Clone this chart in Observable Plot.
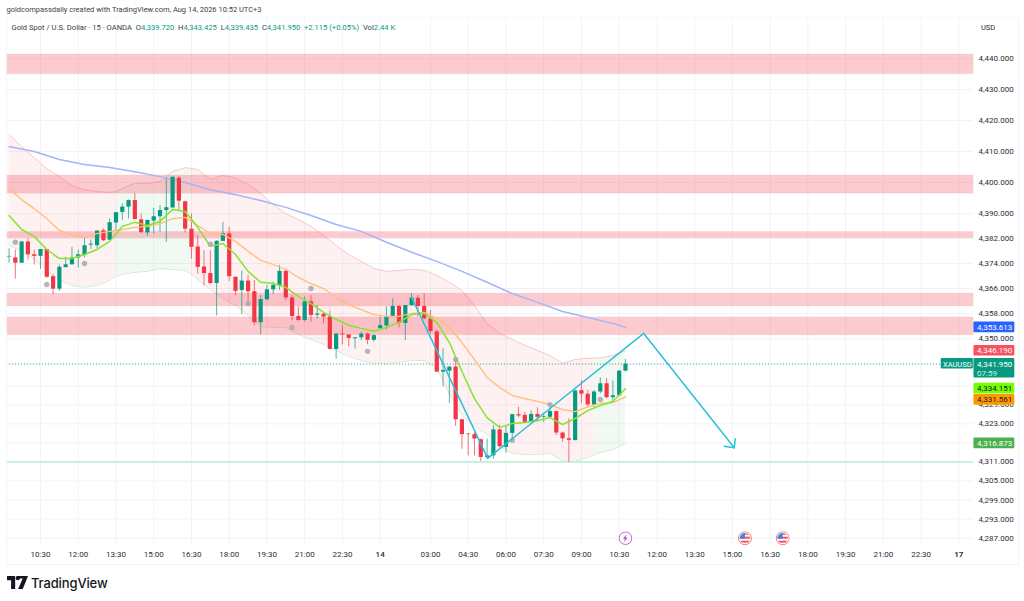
<!DOCTYPE html>
<html><head><meta charset="utf-8">
<script src="https://cdn.jsdelivr.net/npm/d3@7"></script>
<script src="https://cdn.jsdelivr.net/npm/@observablehq/plot@0.6"></script>
<style>
html,body{margin:0;padding:0;background:#fff;width:1024px;height:601px;overflow:hidden;font-family:Roboto,"Open Sans",sans-serif;color:#131722}
#top{height:17px;line-height:19px;font-size:7.5px;padding-left:6.5px;color:#3a3e4a;white-space:nowrap}
#wrap{position:relative;width:1024px;height:547px}
#wrap svg{display:block;position:absolute;left:0;top:0}
#border{position:absolute;left:6px;top:0;width:1011px;height:546px;border:1px solid #f2f4f9;border-top-color:#f6f7fb;box-sizing:content-box;pointer-events:none}
#legend{position:absolute;left:11.5px;top:5px;font-size:7.6px;line-height:11px;white-space:nowrap;color:#3a3e4a}
#legend b{font-weight:400;color:#089981}
#usd{position:absolute;left:975px;top:3px;width:40px;height:15px;line-height:15px;font-size:7.5px;text-align:left;padding-left:6px;box-sizing:border-box;color:#2a2e39}
#foot{height:37px;position:relative}
#foot svg{position:absolute;left:7px;top:12px}
#foot span{position:absolute;left:31px;top:9px;font:500 13px/20px Inter,Roboto,sans-serif;color:#131722;letter-spacing:-.01em}
</style></head><body>
<div id="top">goldcompassdaily created with TradingView.com, Aug 14, 2026 10:52 UTC+3</div>
<div id="wrap"><div id="chart"></div><div id="border"></div>
<div id="legend">Gold Spot / U.S. Dollar · 15 · OANDA&nbsp; O<b>4,339.720</b>&nbsp; H<b>4,343.425</b>&nbsp; L<b>4,339.435</b>&nbsp; C<b>4,341.950</b>&nbsp; <b>+2.115 (+0.05%)</b>&nbsp; Vol<b>2.44 K</b></div>
<div id="usd">USD</div></div>
<div id="foot"><svg width="21" height="13" viewBox="0 0 36 22"><path fill="#131722" d="M0 0h14v22H7V7H0zM16 0h20l-9 22h-8l8-18h-8z"/><circle cx="18.5" cy="3.5" r="3.5" fill="#131722"/></svg><span>TradingView</span></div>
<script>
const open_=[4376.1,4375.8,4374.1,4380.9,4376.8,4376.3,4378.5,4369.8,4365.8,4372.7,4373.6,4375.8,4376.6,4379.9,4379.7,4384.5,4381.5,4387.0,4390.4,4392.1,4394.2,4388.0,4383.8,4387.6,4389.0,4391.0,4391.8,4401.4,4393.8,4385.0,4379.3,4372.9,4370.8,4367.6,4381.1,4383.5,4369.6,4365.4,4368.4,4365.0,4355.1,4362.4,4365.6,4367.0,4371.5,4363.0,4357.1,4355.8,4361.8,4357.5,4357.8,4356.9,4346.6,4351.5,4351.2,4350.0,4350.3,4351.5,4349.5,4353.2,4354.1,4357.1,4360.3,4354.9,4360.6,4362.9,4360.3,4356.3,4352.2,4339.4,4339.7,4341.0,4324.3,4319.8,4319.6,4318.0,4312.4,4312.9,4321.1,4315.6,4320.0,4325.9,4325.7,4323.5,4326.0,4325.1,4325.1,4326.9,4320.1,4318.3,4317.7,4333.5,4332.4,4329.0,4333.1,4335.7,4331.3,4331.9,4339.72];
const close_=[4376.3,4374.1,4380.9,4376.8,4376.3,4378.5,4369.6,4365.8,4372.8,4373.6,4375.8,4376.8,4379.7,4380.2,4384.4,4381.3,4387.1,4390.3,4392.1,4394.2,4388.1,4383.9,4387.8,4389.0,4391.0,4391.9,4401.7,4394.0,4385.0,4379.2,4372.8,4370.8,4367.6,4381.1,4383.5,4369.8,4365.1,4368.4,4365.0,4355.1,4362.5,4365.6,4367.0,4371.5,4363.0,4357.1,4355.8,4361.8,4357.4,4357.9,4356.9,4346.6,4351.5,4351.2,4350.1,4350.3,4351.5,4349.5,4351.0,4354.2,4357.1,4360.3,4354.9,4360.6,4363.0,4360.3,4356.3,4352.3,4339.4,4339.9,4341.0,4324.3,4319.6,4319.6,4318.2,4312.4,4312.9,4321.1,4315.8,4320.0,4325.9,4325.5,4323.5,4326.0,4325.1,4325.3,4326.9,4320.1,4318.3,4317.8,4333.4,4332.4,4329.0,4333.1,4335.7,4331.3,4331.9,4339.7,4341.95];
const high_=[4378.7,4378.3,4381.1,4381.9,4378.3,4378.5,4378.5,4370.4,4373.5,4376.0,4379.2,4378.3,4382.1,4381.5,4384.5,4385.1,4388.3,4390.4,4393.1,4394.4,4396.5,4389.9,4388.0,4391.7,4392.6,4401.1,4401.7,4401.9,4394.0,4389.9,4382.9,4378.1,4378.1,4381.3,4387.2,4385.6,4369.8,4371.6,4370.2,4368.6,4363.8,4367.0,4368.1,4373.4,4371.6,4363.8,4360.1,4363.3,4363.8,4360.6,4358.1,4358.8,4351.7,4354.2,4351.3,4350.4,4352.1,4351.7,4351.2,4356.9,4360.1,4362.7,4360.6,4360.6,4364.5,4363.8,4364.3,4359.0,4352.7,4346.8,4341.2,4343.7,4324.5,4319.9,4320.4,4318.2,4318.2,4322.5,4322.5,4322.5,4326.0,4328.3,4326.7,4327.2,4328.1,4326.4,4328.3,4327.0,4320.4,4324.6,4333.6,4336.8,4333.6,4333.6,4337.6,4337.3,4336.6,4339.9,4343.425];
const low_=[4374.1,4369.0,4374.1,4375.1,4373.5,4372.1,4369.3,4364.0,4365.1,4372.6,4373.5,4372.6,4375.8,4378.5,4378.7,4381.1,4381.3,4384.5,4387.8,4388.3,4388.0,4383.5,4382.7,4383.5,4384.0,4380.8,4391.8,4391.0,4383.8,4375.4,4370.6,4366.9,4367.4,4357.3,4381.1,4368.3,4363.7,4357.7,4361.1,4354.1,4351.3,4362.2,4364.1,4365.4,4362.2,4355.8,4355.6,4355.3,4355.3,4356.3,4354.7,4346.4,4343.5,4348.1,4347.5,4346.7,4349.4,4348.1,4348.9,4353.1,4352.8,4356.9,4353.4,4349.4,4360.3,4356.9,4356.0,4351.5,4339.3,4334.7,4329.4,4322.2,4315.0,4312.9,4312.9,4311.1,4311.9,4311.9,4315.4,4313.7,4317.7,4324.9,4323.3,4323.3,4323.5,4323.5,4324.6,4319.3,4317.2,4310.8,4317.7,4329.4,4328.1,4328.1,4332.5,4330.9,4329.9,4331.7,4339.435];
const lineI=d3.range(0,99,2);
const orange=[4398.1,4394.5,4391.6,4388.4,4384.6,4383.3,4382.4,4383.6,4384.3,4384.9,4385.6,4385.9,4386.8,4388.4,4388.8,4386.2,4383.6,4383.3,4381.1,4377.9,4375.0,4373.7,4372.1,4369.6,4367.6,4366.0,4363.2,4360.9,4359.3,4357.7,4357.1,4357.1,4358.1,4358.4,4356.5,4353.6,4348.8,4343.4,4337.7,4334.5,4332.0,4331.0,4330.1,4329.1,4327.5,4326.9,4328.4,4329.5,4329.7,4331.561];
const lime=[4389.4,4384.9,4382.7,4378.5,4375.6,4375.6,4376.9,4378.5,4381.1,4385.9,4387.2,4386.2,4387.5,4391.3,4390.7,4385.6,4379.5,4380.4,4376.9,4371.5,4368.0,4367.6,4366.4,4363.5,4361.2,4358.4,4356.2,4354.3,4353.3,4352.4,4353.6,4355.2,4357.7,4358.1,4355.2,4348.8,4339.6,4331.0,4325.0,4321.9,4323.1,4323.4,4324.1,4325.0,4322.8,4324.7,4327.2,4328.8,4330.1,4334.151];
const bandI=[0,2,4,6,8,10,12,14,16,17,18,20,22,24,26,28,29,30,32,34,36,38,40,42,44,46,48,50,52,54,56,58,60,62,64,66,68,70,72,74,76,78,80,82,84,86,88,90,92,93,94,96,98];
const upper=[4415.5,4411.6,4408.0,4404.5,4401.9,4399.0,4397.7,4397.1,4396.8,4397.1,4398.1,4399.7,4399.7,4400.3,4403.5,4404.8,4404.5,4404.2,4401.0,4402.3,4401.4,4399.4,4396.5,4392.9,4390.0,4388.1,4385.9,4383.0,4379.8,4376.9,4374.7,4372.4,4371.5,4371.8,4372.1,4371.8,4370.2,4368.0,4365.4,4360.6,4354.9,4351.7,4349.8,4347.9,4346.3,4344.7,4342.2,4343.4,4343.8,4343.8,4343.9,4344.7,4346.19];
const lower=[4379.8,4377.9,4375.3,4371.8,4368.6,4367.0,4366.4,4367.0,4368.6,4369.9,4370.5,4371.2,4371.5,4372.4,4372.1,4371.8,4370.5,4368.9,4365.7,4362.8,4360.6,4357.4,4353.9,4353.6,4353.6,4351.4,4349.8,4348.2,4346.3,4344.4,4343.1,4342.2,4342.2,4342.5,4343.1,4343.1,4340.6,4332.6,4325.7,4322.2,4319.7,4315.9,4313.7,4313.3,4313.3,4313.7,4311.2,4311.2,4312.4,4313.2,4314.0,4314.9,4316.873];
const blueI=[0,4,8,12,16,20,24,28,32,36,40,44,48,52,56,60,64,68,72,76,80,84,88,92,96,98];
const blue=[4411.6,4410.0,4407.4,4405.8,4404.8,4403.5,4401.9,4400.0,4397.7,4396.1,4394.2,4392.0,4389.4,4386.5,4384.3,4380.8,4377.6,4374.7,4371.5,4368.0,4364.4,4361.6,4358.7,4356.8,4354.9,4353.613];
const dotI=[1,6,12,32,38,45,48,57,71,80,86,94];
const dotP=[4380.8,4367.3,4374.0,4380.2,4361.2,4353.6,4366.0,4346.0,4343.4,4317.8,4329.1,4330.7];
const zoneHi=[4441.4,4402.25,4384.1,4364.4,4356.8];
const zoneLo=[4435.0,4396.4,4382.1,4360.3,4351.1];
const supportLevel=4311;
const trendI=[64,76.1,100.9,115.3];
const trendP=[4363.2,4312.1,4351.7,4315.45];
const headI=[113.7,115.3,115.45];
const headP=[4315.96,4315.45,4318.3];
const yTicks=[4440,4430,4420,4410,4400,4390,4382,4374,4366,4358,4350,4342,4335,4329,4323,4317,4311,4305,4299,4293,4287];
const timeI=[5,11,17,23,29,35,41,47,53,67,73,79,85,91,97,103,109,115,121,127,133,139,145];
const timeL=["10:30","12:00","13:30","15:00","16:30","18:00","19:30","21:00","22:30","03:00","04:30","06:00","07:30","09:00","10:30","12:00","13:30","15:00","16:30","18:00","19:30","21:00","22:30"];
const dayI=[59,151];
const dayL=["14","17"];
const tagP=[4353.613,4346.19,4334.151,4331.561,4316.873];
const tagAt=[4353.613,4346.19,4334.151,4330.6,4316.873];
const tagFill=["#2962ff","#f7525f","#76ff03","#ff9800","#4caf50"];
const tagInk=["#fff","#fff","#131722","#131722","#fff"];
const lastPrice=4341.95;
const flagI=[117,123];
const boltI=[98];
const iconP=4287;

const bars=open_.map((o,i)=>({i,o,c:close_[i],h:high_[i],l:low_[i]}));
const cU="#089981",cD="#f23645";
const col=d=>d.c>=d.o?cU:cD;
const lineRows=lineI.map((i,k)=>({i,orange:orange[k],lime:lime[k]}));
const bandRows=bandI.map((i,k)=>({i,u:upper[k],l:lower[k]}));
const blueRows=blueI.map((i,k)=>({i,p:blue[k]}));
const left=-0.4,right=153.35,tagEnd=159.9;
const seg=(a,b,fill)=>Plot.areaY(bandRows.filter(d=>d.i>=a&&d.i<=b),{x:"i",y1:"u",y2:"l",fill,fillOpacity:.07});
const fmt=d3.format(",.3f");
const flag="data:image/svg+xml,"+encodeURIComponent('<svg xmlns="http://www.w3.org/2000/svg" viewBox="0 0 28 28"><circle cx="14" cy="14" r="13" fill="#fff" stroke="#f77c80" stroke-width="2"/><clipPath id="a"><circle cx="14" cy="14" r="10.5"/></clipPath><g clip-path="url(#a)"><rect width="28" height="28" fill="#fff"/><rect y="3" width="28" height="4" fill="#f7525f"/><rect y="11" width="28" height="4" fill="#f7525f"/><rect y="19" width="28" height="4" fill="#f7525f"/><rect width="14" height="15" fill="#2e8fe8"/></g></svg>');
const bolt="data:image/svg+xml,"+encodeURIComponent('<svg xmlns="http://www.w3.org/2000/svg" viewBox="0 0 28 28"><circle cx="14" cy="14" r="12.5" fill="#fff" stroke="#ba68c8" stroke-width="2"/><path fill="#ab47bc" d="M16 6l-7 9h4l-2 7 7-9h-4z"/></svg>');
const txt={fontFamily:"Roboto,'Open Sans',sans-serif",fontSize:8};
const ink="#2a2e39";
const chart=Plot.plot({
  width:1024,height:547,marginTop:0,marginLeft:6,marginRight:51,marginBottom:19,
  style:{background:"transparent",overflow:"visible"},
  x:{type:"linear",domain:[0,100],range:[8.55,637.55],axis:null},
  y:{type:"log",domain:[4287,4440],range:[520.7,41.3],axis:null},
  marks:[
    Plot.gridX(timeI.concat(dayI),{stroke:"#f1f3f8",strokeOpacity:1}),
    Plot.gridY(yTicks,{stroke:"#f1f3f8",strokeOpacity:1}),
    seg(0,17,"#f23645"),seg(29,93,"#f23645"),seg(17,29,"#4caf50"),seg(93,98,"#4caf50"),
    Plot.line(bandRows,{x:"i",y:"u",stroke:"#f9c9cb",strokeWidth:1}),
    Plot.line(bandRows,{x:"i",y:"l",stroke:"#d3ecd3",strokeWidth:1}),
    Plot.rect(zoneHi,{x1:left,x2:right,y1:d=>d,y2:(d,k)=>zoneLo[k],fill:"#f23645",fillOpacity:.26,stroke:"#f23645",strokeOpacity:.06}),
    Plot.ruleY([supportLevel],{x1:left,x2:right,stroke:"#c8f0dc",strokeWidth:2}),
    Plot.ruleY([lastPrice],{x1:left,x2:148.2,stroke:cU,strokeWidth:1,strokeDasharray:"1,2",strokeOpacity:.75}),
    Plot.line(blueRows,{x:"i",y:"p",stroke:"#a4b4f8",strokeWidth:1.5}),
    Plot.ruleX(bars,{x:"i",y1:"l",y2:"h",stroke:col,strokeWidth:1,strokeOpacity:.7}),
    Plot.ruleX(bars,{x:"i",y1:"o",y2:"c",stroke:col,strokeWidth:4.2}),
    Plot.line(lineRows,{x:"i",y:"orange",stroke:"#ffbd75",strokeWidth:1.3}),
    Plot.line(lineRows,{x:"i",y:"lime",stroke:"#82e62c",strokeWidth:1.5}),
    Plot.dot(dotI,{x:d=>d,y:(d,k)=>dotP[k],r:2.7,fill:"#a8a8b0",fillOpacity:.85}),
    Plot.line(trendI,{x:d=>d,y:(d,k)=>trendP[k],stroke:"#2bc0da",strokeWidth:1.5}),
    Plot.line(headI,{x:d=>d,y:(d,k)=>headP[k],stroke:"#2bc0da",strokeWidth:1.5}),
    Plot.image(flagI,{x:d=>d,y:()=>iconP,src:()=>flag,width:14,height:14}),
    Plot.image(boltI,{x:d=>d,y:()=>iconP,src:()=>bolt,width:14,height:14}),
    Plot.axisY(yTicks,{anchor:"right",label:null,tickSize:0,tickPadding:5,tickFormat:fmt,stroke:null,...txt,fill:ink}),
    Plot.axisX(timeI,{anchor:"bottom",label:null,tickSize:0,tickPadding:6,tickFormat:d=>timeL[timeI.indexOf(d)],...txt,fill:ink}),
    Plot.axisX(dayI.slice(0,1),{anchor:"bottom",label:null,tickSize:0,tickPadding:6,tickFormat:d=>dayL[dayI.indexOf(d)],...txt,fontWeight:500,fill:ink}),
    Plot.axisX(dayI.slice(1),{anchor:"bottom",label:null,tickSize:0,tickPadding:6,tickFormat:d=>dayL[dayI.indexOf(d)],...txt,fontWeight:"bold",fill:ink}),
    Plot.rect(tagAt,{x1:153.4,x2:tagEnd,y1:d=>d-1.7,y2:d=>d+1.7,fill:(d,k)=>tagFill[k],rx:1}),
    Plot.text(tagAt,{x:153.9,y:d=>d,text:(d,k)=>fmt(tagP[k]),fill:(d,k)=>tagInk[k],textAnchor:"start",...txt}),
    Plot.rect([lastPrice],{x1:153.4,x2:tagEnd,y1:4343.7,y2:4337.5,fill:cU,rx:1}),
    Plot.rect([lastPrice],{x1:148.2,x2:153.3,y1:4343.7,y2:4340.35,fill:cU,rx:1}),
    Plot.text([lastPrice],{x:153.9,y:d=>d,text:fmt,fill:"#fff",textAnchor:"start",...txt}),
    Plot.text([lastPrice],{x:153.9,y:d=>d-3,text:()=>"07:59",fill:"#cdeee8",textAnchor:"start",...txt}),
    Plot.text([lastPrice],{x:150.75,y:d=>d-0.05,text:()=>"XAUUSD",fill:"#fff",textAnchor:"middle",...txt,fontSize:7.5})
  ]
});
document.getElementById("chart").append(chart);
</script>
</body></html>
